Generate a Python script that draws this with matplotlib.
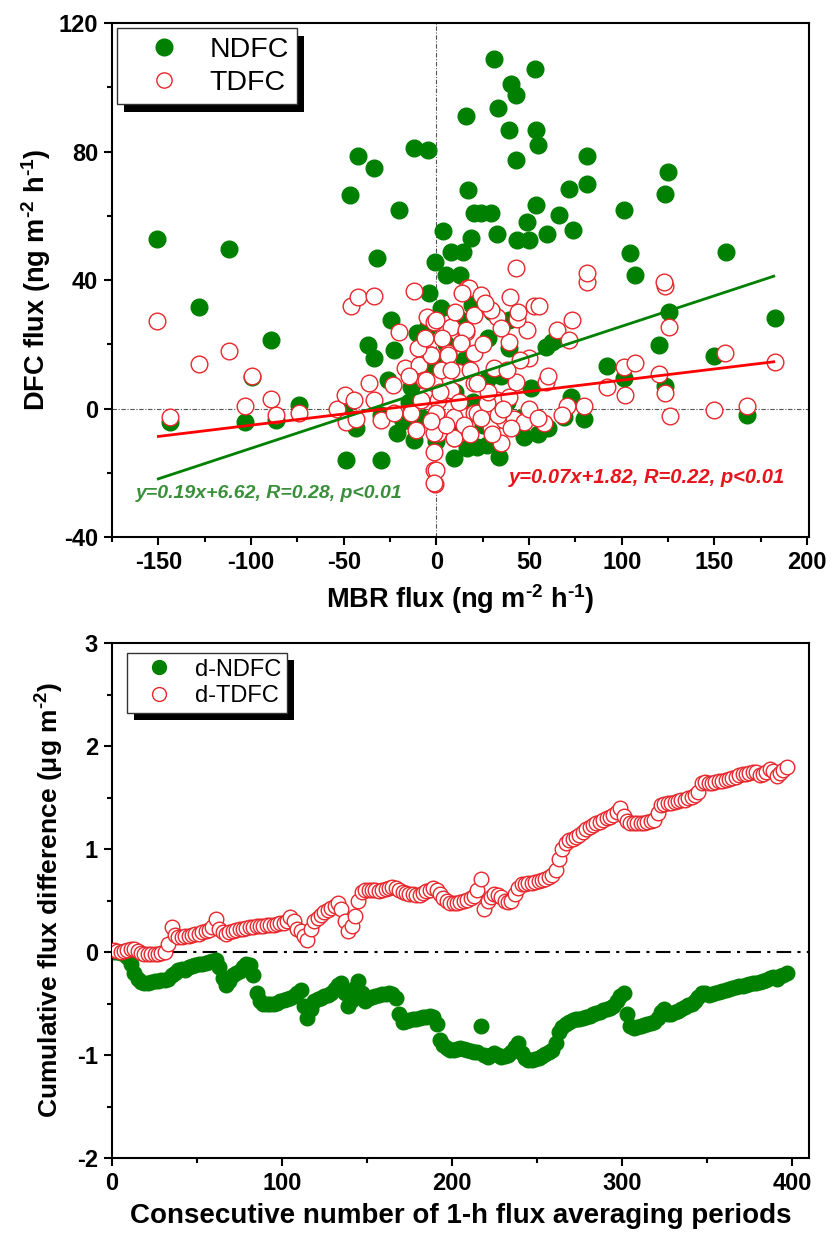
import matplotlib
matplotlib.use("Agg")
import matplotlib.pyplot as plt
import numpy as np
from matplotlib.lines import Line2D
from matplotlib.patches import Rectangle

plt.rcParams['font.family'] = ['Liberation Sans', 'DejaVu Sans']
plt.rcParams['axes.unicode_minus'] = False
plt.rcParams['mathtext.fontset'] = 'custom'
plt.rcParams['mathtext.rm'] = 'Liberation Sans:bold'
plt.rcParams['mathtext.bf'] = 'Liberation Sans:bold'
plt.rcParams['mathtext.it'] = 'Liberation Sans:bold:italic'
plt.rcParams['mathtext.default'] = 'rm'

# ---- top panel: DFC flux vs MBR flux ----
ndfc_x = [-150.5, -111.7, -42.5, -33.9, -46.6, -20.2, -32.1, -12.2, -4.6, 30.9, 53.0, 40.0, 43.1,
          15.8, 33.4, 39.3, 53.7, 54.8, 43.1, 81.4, 81.4, 71.5, 125.1, 123.2, 17.1, 20.3, 23.9,
          29.3, 53.7, 65.9, 101.1, 48.7, 3.8, 18.5, 32.9, 43.3, 49.9, 59.5, 73.5, 104.3, 156.0,
          7.8, 14.2, -0.9, 5.0, 13.0, 107.0, -127.8, -89.2, -143.9, -99.4, -103.5, -73.9, -86.5,
          -48.8, -29.9, -37.1, -33.5, -24.6, -22.8, -3.9, -43.4, -21.0, -12.0, -10.2, 2.4, 9.5,
          16.7, -26.3, -13.8, 125.3, 182.8, 119.9, 149.5, 92.1, 101.1, 123.5, 167.5, 79.5, 72.4,
          68.8, 47.2, 33.8, 22.1, 27.5, 58.9, 62.5, 39.2, 27.5, 50.8, 39.2, 19.4, -4.8, 0.0, 5.0,
          -5.0, 10.0, 25.0, 35.0, 45.0, 15.0, -8.0, 30.0, 55.0, -15.0, 8.0, 20.0, -2.0, 12.0,
          -30.0, -50.0, 60.0, 38.0, -18.0, 28.0]
ndfc_y = [52.8, 49.6, 78.6, 74.9, 66.5, 61.8, 46.8, 81.1, 80.5, 108.8, 105.7, 101.0, 97.6,
          91.0, 93.5, 86.7, 86.7, 82.0, 77.3, 78.7, 69.9, 68.3, 73.7, 66.8, 68.0, 60.8, 60.8,
          60.8, 63.3, 60.2, 61.8, 58.0, 55.3, 53.2, 54.2, 52.5, 52.5, 54.2, 55.6, 48.3, 48.6,
          48.6, 48.6, 45.7, 41.6, 41.6, 41.6, 31.7, 21.3, -4.1, 9.9, -4.1, 1.1, -3.6,
          -16.0, -16.0, 19.8, 15.6, 27.5, 18.2, 35.9, -6.2, -7.7, -9.8, 23.4, 31.2, -15.5,
          -12.4, 8.9, 6.8, 30.1, 28.1, 19.8, 16.3, 13.2, 9.4, 7.0, -2.0, -3.1, 3.7,
          -2.5, -8.8, -15.0, -11.9, -11.4, 19.2, 20.8, 18.7, 8.9, 6.3, 27.5, 32.2, 25.0, -10.0, 20.0,
          10.0, 5.0, -5.0, 10.0, -3.0, 15.0, -3.0, 30.0, -8.0, 2.0, -6.0, 2.0, 14.0, 28.0,
          -2.0, -1.0, -6.0, 2.0, -4.0, 22.0]

tdfc_x = [-150.6, -127.8, -112.0, -99.4, -143.9, -103.5, -89.2, -86.5, -73.9, -46.1, -42.2,
          -33.9, -12.0, -53.8, -49.2, -44.6, -48.8, -43.4, -36.6, -33.5, -29.9, -23.6, -20.1,
          -17.0, -9.3, -4.8, -1.2, 16.7, -3.0, 6.0, 13.1, 7.8, 15.8, -6.6, -1.2, 7.8, -22.8,
          -13.8, -11.1, -0.3, 0.6, -1.2, -1.2, -0.7, 9.5, 13.1, 20.3, 0.6, -8.4,
          17.6, 23.9, 39.7, 81.4, 123.2, 52.6, 55.3, 73.3, 125.3, 155.8, 182.8, 101.1, 107.4,
          119.9, 123.5, 102.0, 92.1, 126.2, 149.5, 167.5, 79.5, 70.6, 67.9, 58.9, 65.2, 71.5,
          49.0, 43.7, 32.9, 29.3, 20.3, 49.9, 42.8, 39.2, -0.3, 15.8, 13.1, 6.0, -3.0, 20.3,
          2.4, 11.4, -5.7, 7.8, 20.3, -0.3, 9.5, 22.1, 29.3, 36.5, 41.8, 32.9, 39.2, 27.5,
          47.2, 58.0, 34.7, 9.5, -1.2, -0.3, -1.2, 31.1, 42.8, 81.4, 122.6,
          3.0, 10.0, 18.0, 25.0, 28.0, 35.0, 45.0, 5.0, 15.0, 22.0, 30.0, 38.0, 12.0, 2.0,
          -3.0, 26.0, 44.0, -10.0, -15.0, 50.0, 55.0, 60.0, 33.0, 18.0, 8.0, -6.0, 24.0,
          14.0, 36.0, 40.0]
tdfc_y = [27.3, 13.9, 18.0, 10.1, -2.6, 0.8, 3.0, -2.0, -1.3, 31.9, 34.8,
          35.0, 36.6, 0.0, 4.2, 2.6, -4.1, -3.1, 7.8, 2.6, -3.6, 7.3, 23.9,
          12.5, 13.5, 28.6, 27.0, 37.4, 16.7, 17.2, 20.3, 25.5, 23.9, 8.9, 7.8, 5.8, -1.5,
          -1.5, -6.7, -1.5, -7.7, -13.4, -19.1, -23.5, -9.3, -2.0, -1.5, 2.6, 2.6,
          37.4, 35.3, 34.8, 39.5, 38.1, 31.9, 31.9, 27.5, 25.5, 17.2, 14.6, 13.0, 14.3,
          10.7, 4.9, 4.2, 6.8, -2.3, -0.5, 0.8, 0.8, 0.8, -2.0, 8.3, 24.4, 21.3,
          24.4, 27.8, 28.6, 30.7, 29.1, 15.6, 8.3, 20.8, 27.5, 24.4, 20.3, 16.7, 16.7, 17.2,
          12.0, 11.5, 8.9, 5.8, 7.8, -1.5, -2.6, -1.5, -5.7, -3.6, -3.1, 2.6, 3.7, 1.6,
          -4.1, -4.6, -10.8, -9.3, -7.7, -19.1, -23.3, 12.5, 43.6, 42.2, 39.5,
          22.0, 30.0, 12.0, 20.0, 5.0, 25.0, 15.0, -5.0, -5.0, 8.0, -8.0, 12.0, 2.0, 5.0,
          -4.0, 33.0, 30.0, 19.0, 10.0, 0.0, -3.0, 10.0, -2.0, -8.0, 12.0, 22.0, -3.0,
          36.0, 0.0, -6.0]

fit_x = [-150, 182]
ndfc_fit = (0.19, 6.62)
tdfc_fit = (0.07, 1.82)

periods = list(range(1, 398, 2))
d_ndfc = [0.0, 0.0, -0.01, -0.02, -0.05, -0.12, -0.2, -0.26, -0.29, -0.3, -0.3, -0.29,
          -0.28, -0.28, -0.27, -0.27, -0.26, -0.22, -0.2, -0.17, -0.16, -0.17, -0.15, -0.14,
          -0.13, -0.12, -0.12, -0.11, -0.1, -0.09, -0.08, -0.15, -0.25, -0.32, -0.28, -0.22,
          -0.2, -0.18, -0.15, -0.12, -0.13, -0.22, -0.4, -0.48, -0.5, -0.5, -0.5, -0.5,
          -0.49, -0.48, -0.47, -0.46, -0.45, -0.43, -0.4, -0.37, -0.52, -0.64, -0.55, -0.48,
          -0.46, -0.45, -0.43, -0.42, -0.4, -0.36, -0.32, -0.3, -0.4, -0.52, -0.47, -0.35,
          -0.28, -0.4, -0.48, -0.45, -0.44, -0.43, -0.42, -0.41, -0.41, -0.4, -0.41, -0.45,
          -0.6, -0.68, -0.67, -0.66, -0.65, -0.65, -0.64, -0.63, -0.63, -0.62, -0.63, -0.7,
          -0.85, -0.9, -0.93, -0.95, -0.95, -0.94, -0.93, -0.94, -0.95, -0.96, -0.97, -0.97,
          -0.72, -1.0, -1.02, -1.0, -0.98, -1.0, -1.02, -1.01, -1.0, -0.97, -0.92, -0.88,
          -0.98, -1.03, -1.05, -1.05, -1.04, -1.03, -1.01, -0.99, -0.97, -0.95, -0.88, -0.78,
          -0.73, -0.7, -0.68, -0.66, -0.65, -0.65, -0.64, -0.63, -0.62, -0.6, -0.59, -0.58,
          -0.56, -0.55, -0.54, -0.52, -0.48, -0.43, -0.4, -0.6, -0.72, -0.74, -0.73, -0.72,
          -0.71, -0.7, -0.69, -0.68, -0.64, -0.58, -0.55, -0.6, -0.6, -0.58, -0.57, -0.55,
          -0.53, -0.51, -0.5, -0.48, -0.44, -0.4, -0.4, -0.42, -0.41, -0.4, -0.39, -0.38,
          -0.37, -0.36, -0.35, -0.34, -0.33, -0.33, -0.32, -0.31, -0.3, -0.3, -0.29, -0.28,
          -0.27, -0.25, -0.24, -0.26, -0.23, -0.22, -0.2]
d_tdfc = [0.02, 0.01, 0.0, 0.01, 0.02, 0.03, 0.03, 0.01, -0.01, -0.02, -0.02, -0.02,
          -0.02, -0.02, -0.01, 0.0, 0.08, 0.24, 0.17, 0.15, 0.15, 0.16, 0.16, 0.17,
          0.18, 0.18, 0.19, 0.2, 0.21, 0.24, 0.32, 0.22, 0.19, 0.18, 0.19, 0.2,
          0.21, 0.22, 0.22, 0.23, 0.24, 0.24, 0.25, 0.25, 0.25, 0.26, 0.26, 0.26,
          0.27, 0.28, 0.28, 0.3, 0.34, 0.3, 0.22, 0.2, 0.16, 0.12, 0.22, 0.3,
          0.33, 0.36, 0.39, 0.41, 0.43, 0.45, 0.48, 0.42, 0.3, 0.2, 0.25, 0.35,
          0.5, 0.58, 0.6, 0.6, 0.6, 0.6, 0.59, 0.6, 0.61, 0.62, 0.63, 0.62,
          0.6, 0.58, 0.57, 0.56, 0.56, 0.55, 0.55, 0.57, 0.59, 0.6, 0.62, 0.6,
          0.56, 0.52, 0.5, 0.48, 0.48, 0.48, 0.49, 0.5, 0.51, 0.52, 0.54, 0.6,
          0.71, 0.42, 0.5, 0.53, 0.56, 0.55, 0.53, 0.5, 0.49, 0.5, 0.56, 0.62,
          0.66, 0.66, 0.67, 0.67, 0.68, 0.69, 0.7, 0.71, 0.73, 0.75, 0.8, 0.9,
          1.0, 1.06, 1.09, 1.1, 1.12, 1.14, 1.17, 1.19, 1.21, 1.23, 1.25, 1.26,
          1.28, 1.3, 1.31, 1.33, 1.36, 1.4, 1.32, 1.27, 1.25, 1.25, 1.25, 1.25,
          1.25, 1.26, 1.27, 1.28, 1.35, 1.43, 1.44, 1.45, 1.45, 1.46, 1.47, 1.48,
          1.48, 1.5, 1.51, 1.52, 1.55, 1.64, 1.65, 1.64, 1.64, 1.65, 1.66, 1.66,
          1.67, 1.68, 1.69, 1.7, 1.72, 1.73, 1.73, 1.74, 1.75, 1.75, 1.72, 1.73,
          1.75, 1.78, 1.76, 1.71, 1.74, 1.77, 1.8]

green = '#008000'
red = '#e8262b'

fig = plt.figure(figsize=(8.34, 12.40), dpi=100)
ax1 = fig.add_axes([0.1343, 0.5669, 0.8357, 0.4145])
ax2 = fig.add_axes([0.1343, 0.0661, 0.8357, 0.4153])


def style_axis(ax):
    for s in ax.spines.values():
        s.set_linewidth(1.5)
    ax.tick_params(which='both', direction='out', width=1.5, labelsize=17, pad=4,
                   top=False, right=False)
    ax.tick_params(which='major', length=6)
    ax.tick_params(which='minor', length=3.5)
    for lab in ax.get_xticklabels() + ax.get_yticklabels():
        lab.set_fontweight('bold')


def add_shadow(ax, leg, dx, dy):
    fig.canvas.draw()
    bb = leg.get_window_extent()
    inv = ax.transAxes.inverted()
    (x0, y0), (x1, y1) = inv.transform([[bb.x0 + dx, bb.y0 - dy], [bb.x1 + dx, bb.y1 - dy]])
    ax.add_patch(Rectangle((x0, y0), x1 - x0, y1 - y0, transform=ax.transAxes,
                           facecolor='black', edgecolor='none', zorder=4.9, clip_on=False))


# top panel
ax1.axhline(0, color='#555555', lw=0.8, ls=(0, (4, 1.5, 1, 1.5)), zorder=0)
ax1.axvline(0, color='#555555', lw=0.8, ls=(0, (4, 1.5, 1, 1.5)), zorder=0)
ax1.plot(ndfc_x, ndfc_y, 'o', ms=12, color=green, mec=green, ls='none', zorder=2)
ax1.plot(tdfc_x, tdfc_y, 'o', ms=12, mfc='white', mec=red, mew=1.0, ls='none', zorder=3)
fx = np.array(fit_x)
ax1.plot(fx, ndfc_fit[0] * fx + ndfc_fit[1], color=green, lw=2, zorder=4)
ax1.plot(fx, tdfc_fit[0] * fx + tdfc_fit[1], color='red', lw=2, zorder=4)
ax1.text(-162, -26.5, 'y=0.19x+6.62, R=0.28, p<0.01', color='#3a8f3a', fontsize=14,
         fontweight='bold', fontstyle='italic', va='center', ha='left')
ax1.text(188, -21.5, 'y=0.07x+1.82, R=0.22, p<0.01', color='#e8141c', fontsize=14.5,
         fontweight='bold', fontstyle='italic', va='center', ha='right')
ax1.set_xlim(-175, 201)
ax1.set_ylim(-40, 120)
ax1.set_xticks([-150, -100, -50, 0, 50, 100, 150, 200])
ax1.set_xticks(np.arange(-175, 201, 25), minor=True)
ax1.set_yticks([-40, 0, 40, 80, 120])
ax1.set_yticks(np.arange(-40, 121, 20), minor=True)
style_axis(ax1)
ax1.set_xlabel(r'MBR flux (ng m$^{\text{-}2}$ h$^{\text{-}1}$)', fontsize=19.5,
               fontweight='bold', labelpad=6)
ax1.set_ylabel(r'DFC flux (ng m$^{\text{-}2}$ h$^{\text{-}1}$)', fontsize=19.5,
               fontweight='bold', labelpad=4)
h1 = [Line2D([], [], marker='o', ls='none', ms=12, color=green),
      Line2D([], [], marker='o', ls='none', ms=11, mfc='white', mec=red, mew=1.0)]
leg1 = ax1.legend(h1, ['NDFC', 'TDFC'], loc='upper left', bbox_to_anchor=(0.007, 0.99),
                  borderaxespad=0, fancybox=False, framealpha=1, edgecolor='#333333',
                  fontsize=20.5, handlelength=2.7, handletextpad=0.25, borderpad=0.3,
                  labelspacing=0.25, numpoints=1)
leg1.get_frame().set_linewidth(1.0)

# bottom panel
ax2.axhline(0, color='black', lw=1.5, ls=(0, (7, 3, 1.5, 3)), zorder=0)
ax2.plot(periods, d_ndfc, 'o', ms=10.5, color=green, ls='none', zorder=2)
ax2.plot(periods, d_tdfc, 'o', ms=10.5, mfc='white', mec=red, mew=1.0, ls='none', zorder=3)
ax2.set_xlim(0, 410)
ax2.set_ylim(-2, 3)
ax2.set_xticks([0, 100, 200, 300, 400])
ax2.set_xticks(np.arange(0, 401, 50), minor=True)
ax2.set_yticks([-2, -1, 0, 1, 2, 3])
ax2.set_yticks(np.arange(-2, 3.01, 0.5), minor=True)
style_axis(ax2)
ax2.set_xlabel('Consecutive number of 1-h flux averaging periods', fontsize=20,
               fontweight='bold', labelpad=6)
ax2.set_ylabel(r'Cumulative flux difference (μg m$^{\text{-}2}$)', fontsize=19,
               fontweight='bold', labelpad=8)
h2 = [Line2D([], [], marker='o', ls='none', ms=10, color=green),
      Line2D([], [], marker='o', ls='none', ms=10, mfc='white', mec=red, mew=1.0)]
leg2 = ax2.legend(h2, ['d-NDFC', 'd-TDFC'], loc='upper left', bbox_to_anchor=(0.0215, 0.981),
                  borderaxespad=0, fancybox=False, framealpha=1, edgecolor='#333333',
                  fontsize=17, handlelength=2.2, handletextpad=0.43, borderpad=0.25,
                  labelspacing=0.2, numpoints=1)
leg2.get_frame().set_linewidth(1.0)

add_shadow(ax1, leg1, 7, 8)
add_shadow(ax2, leg2, 7, 7)

fig.savefig('out.png', dpi=100)
